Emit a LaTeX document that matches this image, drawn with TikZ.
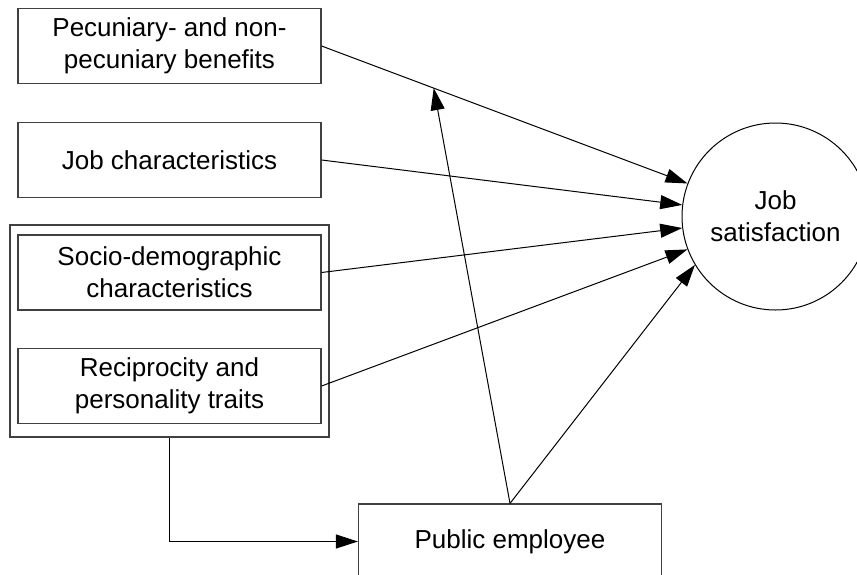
\documentclass[tikz,border=0pt]{standalone}
\usepackage{fontspec}
\setmainfont{Liberation Sans}
\usepackage{tikz}
\usetikzlibrary{arrows.meta, calc}

\begin{document}
\begin{tikzpicture}[x=0.5pt, y=-0.5pt,
        box/.style={rectangle, draw=black!75, line width=0.6pt, minimum width=151.5pt, minimum height=37.5pt, align=center, font=\fontsize{13}{16}\selectfont},
        arr/.style={-{Triangle[length=11pt, width=7pt]}, line width=0.5pt}]
        \useasboundingbox (0, 0) rectangle (857, 574);
        \clip (0, 0) rectangle (857, 574);

        % Graph 1
        \node[box, minimum width=159.5pt, minimum height=106pt] (grp) at (169.5, 331) {};
        \node[box] (pec) at (169.5, 46) {Pecuniary- and non-\\pecuniary benefits};
        \node[box] (job) at (169.5, 160) {Job characteristics};
        \node[box] (soc) at (169.5, 272.5) {Socio-demographic\\characteristics};
        \node[box] (rec) at (169.5, 386) {Reciprocity and\\personality traits};
        \node[box] (pub) at (510, 541.5) {Public employee};
        \node[circle, draw, line width=0.5pt, minimum size=93.5pt, align=center, font=\fontsize{13}{16}\selectfont] (sat) at (775.5, 216.5) {Job\\satisfaction};
        \coordinate (mod) at ($(pec.east)!0.247!(sat)$);

        \draw[arr] (pec.east) -- (sat);
        \draw[arr] (job.east) -- (sat);
        \draw[arr] (soc.east) -- (sat);
        \draw[arr] (rec.east) -- (sat);
        \draw[arr] (pub.north) -- (sat.211);
        \draw[arr] (pub.north) -- (mod);
        \draw[arr] (grp.south) |- (pub.west);

        \end{tikzpicture}
\end{document}
